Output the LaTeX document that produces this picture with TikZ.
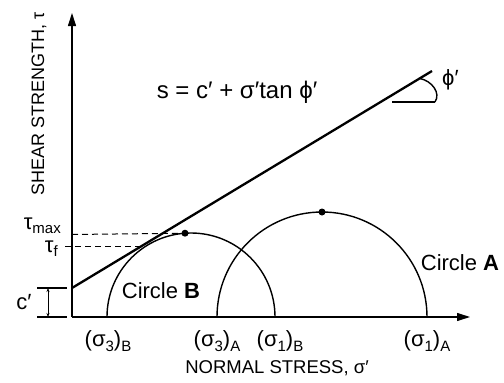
\documentclass[tikz,border=0pt]{standalone}
\usepackage{fontspec}
\setmainfont{Liberation Sans}
\usetikzlibrary{arrows.meta}
\newcommand{\sbs}[1]{\raisebox{-0.2em}{\fontsize{15}{18}\selectfont #1}}
\begin{document}
\begin{tikzpicture}[x=1pt,y=-1pt,
  lbl/.style={inner sep=0pt,font=\fontsize{22}{26}\selectfont},
  axlbl/.style={inner sep=0pt,font=\fontsize{18.5}{22}\selectfont},
  axisline/.style={line width=1.1pt,-{Triangle[length=13pt,width=8pt]}},
  circ/.style={line width=1.4pt},
  dashline/.style={line width=1pt,dash pattern=on 6pt off 4pt},
  dot/.style={circle,fill=black,inner sep=0pt,minimum size=7pt}]
\useasboundingbox (0,0) rectangle (504,383);
% axes
\coordinate (O) at (72,317);
\coordinate (ytop) at (72,13);
\coordinate (xend) at (470,317);
\draw[axisline] (O) -- (ytop);
\draw[axisline] (O) -- (xend);
% circles
\coordinate (b3) at (107,317);
\coordinate (a3) at (217,317);
\draw[circ] (b3) arc[start angle=180,end angle=360,radius=84];
\draw[circ] (a3) arc[start angle=180,end angle=360,radius=105];
\node[dot] (dotB) at (185,233.2) {};
\node[dot] (dotA) at (322,212) {};
% failure envelope
\coordinate (L0) at (72,288);
\coordinate (L1) at (432,71);
\draw[line width=2.3pt] (L0) -- (L1);
% angle marker
\coordinate (h0) at (392,102);
\coordinate (h1) at (435,102);
\draw[line width=1.4pt] (h0) -- (h1);
\coordinate (arc0) at (420,78.5);
\draw[line width=1.4pt] (arc0) .. controls (432,81) and (441,93) .. (435,102);
\node[lbl,anchor=west] (phi) at (442,80) {ϕ′};
% dashed lines
\coordinate (tmax0) at (72,234.5);
\coordinate (tf0) at (65,246);
\coordinate (tf1) at (140,246);
\draw[dashline] (tmax0) -- (dotB);
\draw[dashline] (tf0) -- (tf1);
\node[lbl,anchor=base east] (tmax) at (61,229) {τ\sbs{max}};
\node[lbl,anchor=base east] (tf) at (58,252) {τ\sbs{f}};
% c' dimension
\coordinate (c0a) at (37,288);\coordinate (c0b) at (67,288);
\coordinate (c1a) at (37,317);\coordinate (c1b) at (67,317);
\coordinate (cm0) at (48,288);\coordinate (cm1) at (48,317);
\draw[line width=1.2pt] (c0a) -- (c0b);
\draw[line width=1.2pt] (c1a) -- (c1b);
\draw[line width=0.9pt,{Stealth[length=4pt,width=3pt]}-{Stealth[length=4pt,width=3pt]}] (cm0) -- (cm1);
\node[lbl] (cp) at (24,302) {c′};
% labels
\node[lbl,font=\fontsize{24}{28}\selectfont] (eq) at (237,92) {s = c′ + σ′tan ϕ′};
\node[lbl] (cB) at (161,291) {Circle \textbf{B}};
\node[lbl] (cA) at (460,263) {Circle \textbf{A}};
\node[lbl] (s3B) at (108,341) {(σ\sbs{3})\sbs{B}};
\node[lbl] (s3A) at (217,341) {(σ\sbs{3})\sbs{A}};
\node[lbl] (s1B) at (280,341) {(σ\sbs{1})\sbs{B}};
\node[lbl] (s1A) at (427,341) {(σ\sbs{1})\sbs{A}};
\node[axlbl] (xl) at (277,368) {NORMAL STRESS, σ′};
\node[axlbl,rotate=90,font=\fontsize{18}{22}\selectfont] (yl) at (39,104) {SHEAR STRENGTH, τ};
\end{tikzpicture}
\end{document}
